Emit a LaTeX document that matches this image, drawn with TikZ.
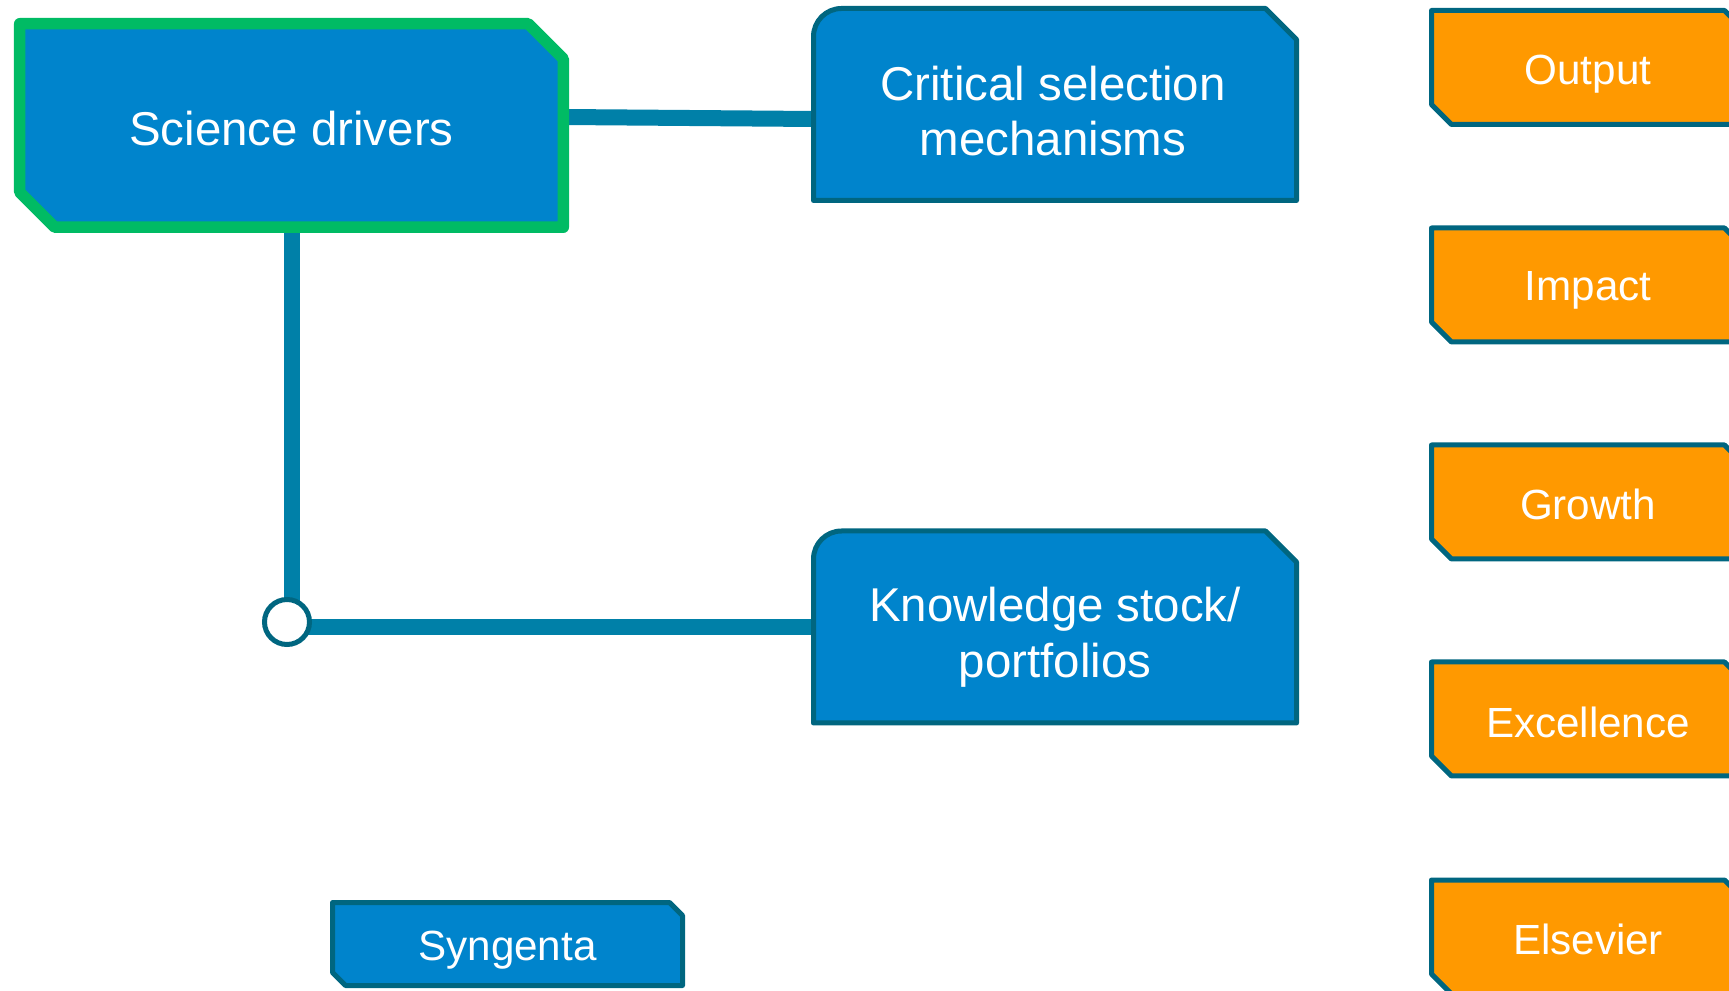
\documentclass[tikz,border=0pt]{standalone}
\usepackage{fontspec}
\setmainfont{Liberation Sans}
\usepackage{xcolor}
\usetikzlibrary{backgrounds}

\definecolor{boxblue}{RGB}{0,132,204}
\definecolor{darkteal}{RGB}{0,102,128}
\definecolor{linkteal}{RGB}{0,128,168}
\definecolor{drivergreen}{RGB}{0,187,100}
\definecolor{kpiorange}{RGB}{255,153,0}

\tikzset{
  bigtext/.style={text=white, align=center, inner sep=0pt, font=\fontsize{13.5}{15.9}\selectfont},
  smalltext/.style={text=white, align=center, inner sep=0pt, font=\fontsize{12}{14}\selectfont},
  plate/.style={rectangle, draw=none, inner sep=0pt, outer sep=0pt},
  driverline/.style={fill=boxblue, draw=drivergreen, line width=0.115cm, line join=round},
  tabline/.style={fill=boxblue, draw=darkteal, line width=0.05cm, line join=round},
  kpiline/.style={fill=kpiorange, draw=darkteal, line width=0.05cm, line join=round},
  link/.style={draw=linkteal, line width=0.16cm},
  hub/.style={circle, inner sep=0pt, minimum size=0.45cm, fill=white, draw=darkteal, line width=0.05cm}
}

\begin{document}
\begin{tikzpicture}
    \useasboundingbox (0,0) rectangle (17.29,-9.91);
    \clip (0,0) rectangle (17.29,-9.91);

    \node[plate, minimum width=5.435cm, minimum height=2.035cm](drivers) at (2.915,-1.255) {};
    \node[plate, minimum width=4.83cm, minimum height=1.92cm](selection) at (10.55,-1.045) {};
    \node[plate, minimum width=4.83cm, minimum height=1.92cm](stock) at (10.55,-6.27) {};
    \node[plate, minimum width=3.5cm, minimum height=0.83cm](syngenta) at (5.075,-9.44) {};
    \node[hub](junction) at (2.87,-6.22) {};

    \node[plate, minimum width=3.13cm, minimum height=1.14cm](output) at (15.88,-0.675) {};
    \node[plate, minimum width=3.13cm, minimum height=1.14cm](impact) at (15.88,-2.85) {};
    \node[plate, minimum width=3.13cm, minimum height=1.14cm](growth) at (15.88,-5.02) {};
    \node[plate, minimum width=3.13cm, minimum height=1.14cm](excellence) at (15.88,-7.19) {};
    \node[plate, minimum width=3.13cm, minimum height=1.14cm](elsevier) at (15.88,-9.37) {};

    % texts
    \node[bigtext](driverstext) at ([yshift=-0.033cm]drivers.center) {Science drivers};
    \node[bigtext](selectiontext) at ([xshift=-0.02cm,yshift=-0.066cm]selection.center) {Critical selection\\mechanisms};
    \node[bigtext](stocktext) at ([yshift=-0.099cm]stock.center) {Knowledge stock/\\portfolios};
    \node[smalltext](syngentatext) at ([yshift=-0.066cm]syngenta.center) {Syngenta};
    \node[smalltext](outputtext) at ([yshift=-0.066cm]output.center) {Output};
    \node[smalltext](impacttext) at ([yshift=-0.055cm]impact.center) {Impact};
    \node[smalltext](growthtext) at ([yshift=-0.022cm]growth.center) {Growth};
    \node[smalltext](excellencetext) at ([yshift=-0.033cm]excellence.center) {Excellence};
    \node[smalltext](elseviertext) at ([yshift=-0.022cm]elsevier.center) {Elsevier};

    \begin{scope}[on background layer]
    % connectors first, outlines over them
    \draw[link] ([yshift=0.085cm]drivers.east) -- ([yshift=-0.145cm]selection.west);
    \draw[link] (drivers.south) -- (drivers.south |- junction.center);
    \draw[link] (junction.center |- stock.west) -- (stock.west);

    \draw[driverline] ([yshift=0.35cm]drivers.south west) -- (drivers.north west) -- ([xshift=-0.35cm]drivers.north east) -- ([yshift=-0.35cm]drivers.north east) -- (drivers.south east) -- ([xshift=0.35cm]drivers.south west) -- cycle;
    \draw[tabline] (selection.south west) -- ([yshift=-0.28cm]selection.north west) arc[start angle=180,end angle=90,radius=0.28cm] -- ([xshift=-0.31cm]selection.north east) -- ([yshift=-0.31cm]selection.north east) -- (selection.south east) -- cycle;
    \draw[tabline] (stock.south west) -- ([yshift=-0.28cm]stock.north west) arc[start angle=180,end angle=90,radius=0.28cm] -- ([xshift=-0.31cm]stock.north east) -- ([yshift=-0.31cm]stock.north east) -- (stock.south east) -- cycle;
    \draw[tabline] ([yshift=0.13cm]syngenta.south west) -- (syngenta.north west) -- ([xshift=-0.13cm]syngenta.north east) -- ([yshift=-0.13cm]syngenta.north east) -- (syngenta.south east) -- ([xshift=0.13cm]syngenta.south west) -- cycle;
    \foreach \kpi in {output,impact,growth,excellence,elsevier}
      \draw[kpiline] ([yshift=0.2cm]\kpi.south west) -- (\kpi.north west) -- ([xshift=-0.2cm]\kpi.north east) -- ([yshift=-0.2cm]\kpi.north east) -- (\kpi.south east) -- ([xshift=0.2cm]\kpi.south west) -- cycle;
    \end{scope}
\end{tikzpicture}
\end{document}
